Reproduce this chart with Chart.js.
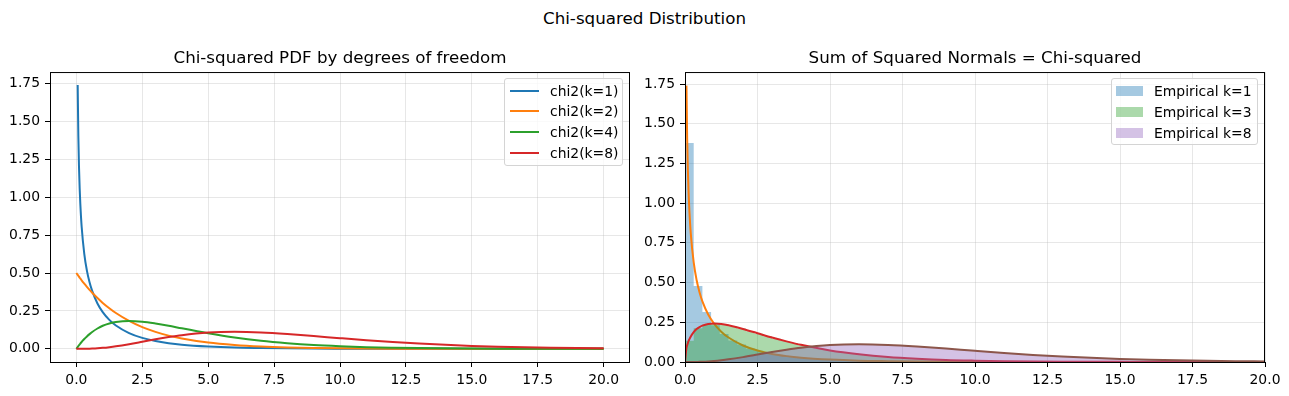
<!DOCTYPE html>
<html>
<head>
<meta charset="utf-8">
<script src="https://cdn.jsdelivr.net/npm/chart.js@4.4.1/dist/chart.umd.min.js"></script>
<style>
  body { margin: 0; background: #fff; font-family: 'DejaVu Sans', sans-serif; }
  #fig { position: relative; width: 1289px; height: 396px; overflow: hidden; }
  canvas { position: absolute; top: 0; }
  .suptitle { position: absolute; left: 0; width: 1289px; top: 8px; text-align: center;
              font-size: 16.7px; line-height: 20px; color: #000; }
  .legend { position: absolute; box-sizing: border-box; border: 1px solid #d4d4d4; border-radius: 3px;
            background: rgba(255,255,255,0.8); font-size: 13.9px; color: #000; }
  .legend .row { position: absolute; left: 0; height: 20px; line-height: 20px; white-space: nowrap; }
  .legend .swatch { position: absolute; }
  .legend .text { position: absolute; top: 0; }
</style>
</head>
<body>
<div id="fig">
  <div class="suptitle">Chi-squared Distribution</div>
  <canvas id="leftChart" width="640" height="396" style="left:0"></canvas>
  <canvas id="rightChart" width="649" height="396" style="left:640px"></canvas>
  <div id="leftLegend" class="legend" style="left:504px; top:78px; width:119px; height:88px;"></div>
  <div id="rightLegend" class="legend" style="left:1111px; top:78px; width:147px; height:67px;"></div>
</div>
<script>
const FONT = "'DejaVu Sans', sans-serif";

const PDF_X = [0, 0.05, 0.075, 0.1, 0.125, 0.15, 0.2, 0.3, 0.4, 0.5, 0.6, 0.8, 1.0, 1.25, 1.5, 2, 2.5, 3, 3.5, 4,
               5, 6, 7, 8, 9, 10, 11, 12, 13, 14, 15, 16, 17, 18, 19, 20];
const PDF_K1 = [null, 1.740, 1.403, 1.200, 1.060, 0.956, 0.807, 0.627, 0.516, 0.439, 0.382, 0.299, 0.242, 0.191, 0.154, 0.104, 0.072, 0.051, 0.037, 0.027,
                0.015, 0.008, 0.005, 0.003, 0.0015, 0.0009, 0.0005, 0.0003, 0.0002, 0.0001, 0.0001, 0, 0, 0, 0, 0];
const PDF_K2 = [0.500, 0.488, 0.482, 0.476, 0.469, 0.464, 0.452, 0.430, 0.409, 0.389, 0.370, 0.335, 0.303, 0.268, 0.236, 0.184, 0.143, 0.112, 0.087, 0.068,
                0.041, 0.025, 0.015, 0.009, 0.0056, 0.0034, 0.0020, 0.0012, 0.0008, 0.0005, 0.0003, 0.0002, 0.0001, 0.0001, 0.0001, 0];
const PDF_K3 = [0, 0.087, 0.105, 0.120, 0.133, 0.143, 0.161, 0.188, 0.207, 0.220, 0.229, 0.239, 0.242, 0.239, 0.231, 0.208, 0.181, 0.154, 0.130, 0.108,
                0.073, 0.049, 0.032, 0.021, 0.013, 0.0085, 0.0054, 0.0034, 0.0021, 0.0013, 0.0008, 0.0005, 0.0003, 0.0002, 0.0001, 0.0001];
const PDF_K4 = [0, 0.012, 0.018, 0.024, 0.029, 0.035, 0.045, 0.065, 0.082, 0.097, 0.111, 0.134, 0.152, 0.167, 0.177, 0.184, 0.179, 0.167, 0.152, 0.135,
                0.103, 0.075, 0.053, 0.037, 0.025, 0.017, 0.011, 0.0074, 0.0049, 0.0032, 0.0021, 0.0013, 0.0009, 0.0006, 0.0004, 0.0002];
const PDF_K8 = [0, 0, 0, 0, 0, 0, 0.0001, 0.0002, 0.0006, 0.0010, 0.0017, 0.0036, 0.0063, 0.0109, 0.0166, 0.0307, 0.0466, 0.0628, 0.0776, 0.0902,
                0.1069, 0.1120, 0.1078, 0.0977, 0.0843, 0.0702, 0.0567, 0.0446, 0.0344, 0.0261, 0.0194, 0.0143, 0.0104, 0.0075, 0.0054, 0.0038];

// histogram bin edges and densities (right panel)
const HIST_EDGES = [0, 0.3, 0.6, 0.9, 1.2, 1.5, 1.8, 2.1, 2.4, 2.7, 3.0, 3.3, 3.6, 3.9, 4.2, 4.5, 4.8, 5.1, 5.4, 5.7,
                    6.0, 6.3, 6.6, 6.9, 7.2, 7.5, 7.8, 8.1, 8.4, 8.7, 9.0, 9.3, 9.6, 9.9, 10.2, 10.5, 10.8, 11.1, 11.4, 11.7,
                    12.0, 12.3, 12.6, 12.9, 13.2, 13.5, 13.8, 14.1, 14.4, 14.7, 15.0, 15.3, 15.6, 15.9, 16.2, 16.5, 16.8, 17.1, 17.4, 17.7,
                    18.0, 18.3, 18.6, 18.9, 19.2, 19.5, 19.8, 20.1];
const HIST_K1 = [1.379, 0.479, 0.315, 0.232, 0.176, 0.136, 0.110, 0.085, 0.071, 0.056, 0.047, 0.039, 0.031, 0.027, 0.021, 0.018, 0.015, 0.013, 0.011, 0.009,
                 0.008, 0.006, 0.005, 0.0045, 0.004, 0.003, 0.0028, 0.002, 0.002, 0.0015, 0.0012, 0.001, 0.0008, 0.0006];
const HIST_K3 = [0.133, 0.212, 0.236, 0.240, 0.236, 0.225, 0.211, 0.193, 0.178, 0.162, 0.147, 0.132, 0.119, 0.106, 0.095, 0.084, 0.075, 0.066, 0.059, 0.052,
                 0.046, 0.040, 0.036, 0.031, 0.028, 0.024, 0.021, 0.019, 0.016, 0.014, 0.012, 0.011, 0.0095, 0.0083, 0.0072, 0.0063, 0.0055, 0.0048, 0.0042, 0.0036,
                 0.0031, 0.0027, 0.0024, 0.0021, 0.0018, 0.0016, 0.0014, 0.0012, 0.0010, 0.0009, 0.0008, 0.0007, 0.0006, 0.0005, 0.0004, 0.0004, 0.0003, 0.0003, 0.0003, 0.0002,
                 0.0002, 0.0002, 0.0001, 0.0001, 0.0001, 0.0001, 0.0001];
const HIST_K8 = [0, 0.0008, 0.0030, 0.0071, 0.0130, 0.0205, 0.0291, 0.0385, 0.0483, 0.0580, 0.0674, 0.0762, 0.0843, 0.0913, 0.0974, 0.1024, 0.1064, 0.1091, 0.1110, 0.1120,
                 0.1119, 0.1112, 0.1096, 0.1077, 0.1051, 0.1017, 0.0984, 0.0947, 0.0906, 0.0865, 0.0823, 0.0780, 0.0738, 0.0695, 0.0654, 0.0613, 0.0573, 0.0535, 0.0499, 0.0463,
                 0.0430, 0.0398, 0.0368, 0.0340, 0.0313, 0.0288, 0.0264, 0.0243, 0.0222, 0.0203, 0.0186, 0.0170, 0.0155, 0.0141, 0.0128, 0.0117, 0.0106, 0.0096, 0.0087, 0.0079,
                 0.0072, 0.0065, 0.0058, 0.0053, 0.0048, 0.0043, 0.0039];

const LEFT_LABELS = ['chi2(k=1)', 'chi2(k=2)', 'chi2(k=4)', 'chi2(k=8)'];
const RIGHT_LABELS = ['Empirical k=1', 'Empirical k=3', 'Empirical k=8'];
const X_TICKS = [0, 2.5, 5, 7.5, 10, 12.5, 15, 17.5, 20];
const Y_TICKS = [0, 0.25, 0.5, 0.75, 1.0, 1.25, 1.5, 1.75];

const LINE_COLORS = ['#1f77b4', '#ff7f0e', '#2ca02c', '#d62728'];
const HIST_COLORS = ['rgba(31,119,180,0.4)', 'rgba(44,160,44,0.4)', 'rgba(148,103,189,0.4)'];
const FIT_COLORS = ['#ff7f0e', '#d62728', '#8c564b'];

// black box around the axes, like matplotlib spines
const framePlugin = {
    id: 'frame',
    afterDatasetsDraw(chart) {
        const {ctx, chartArea: a} = chart;
        ctx.save();
        ctx.strokeStyle = '#000';
        ctx.lineWidth = 1;
        ctx.strokeRect(a.left + 0.5, a.top + 0.5, a.right - a.left - 1, a.bottom - a.top);
        ctx.restore();
    }
};

function scaleOpts(min, max, ticks, digits, size, isX) {
    return {
        type: 'linear',
        min: min,
        max: max,
        afterBuildTicks: (s) => { s.ticks = ticks.map(v => ({value: v})); },
        afterFit: (s) => { if (isX) { s.height = size; } else { s.width = size; } },
        grid: {color: 'rgba(176,176,176,0.3)', lineWidth: 1, tickLength: 5, tickColor: '#000', drawTicks: true},
        border: {display: false},
        ticks: {
            autoSkip: false, maxRotation: 0, padding: 5, color: '#000',
            font: {family: FONT, size: 13.9},
            callback: (v) => Number(v).toFixed(digits)
        }
    };
}

function baseOptions(title, padRight, xs, ys) {
    return {
        responsive: false,
        devicePixelRatio: 1,
        animation: false,
        layout: {padding: {top: 49, left: 0, right: padRight, bottom: 0}},
        plugins: {
            legend: {display: false},
            tooltip: {enabled: false},
            title: {
                display: true, text: title, color: '#000', fullSize: false,
                font: {family: FONT, size: 16.7, weight: 'normal'},
                padding: {top: 0, bottom: 3}
            }
        },
        scales: {x: xs, y: ys}
    };
}

function curve(values) {
    return PDF_X.map((x, i) => ({x: x, y: values[i]}));
}

function histogram(values) {
    let pts = values.map((v, i) => ({x: HIST_EDGES[i], y: v}));
    pts.push({x: HIST_EDGES[values.length], y: 0});
    return pts;
}

// left: pdf lines
const leftSeries = [PDF_K1, PDF_K2, PDF_K4, PDF_K8];
new Chart(document.getElementById('leftChart'), {
    type: 'line',
    data: {
        datasets: leftSeries.map((s, i) => ({
            label: LEFT_LABELS[i],
            data: curve(s),
            borderColor: LINE_COLORS[i],
            borderWidth: 2,
            pointRadius: 0,
            cubicInterpolationMode: 'monotone',
            fill: false,
            order: leftSeries.length - i,
            clip: 0
        }))
    },
    options: baseOptions('Chi-squared PDF by degrees of freedom', 10,
        scaleOpts(-1, 21, X_TICKS, 1, 34, true),
        scaleOpts(-0.0869, 1.8255, Y_TICKS, 2, 50, false)),
    plugins: [framePlugin]
});

// right: histograms with fitted pdfs, drawn in matplotlib order
const hists = [HIST_K1, HIST_K3, HIST_K8];
const fits = [PDF_K1, PDF_K3, PDF_K8];
let rightSets = [];
hists.forEach((h, i) => {
    rightSets.push({
        label: RIGHT_LABELS[i],
        data: histogram(h),
        stepped: true,
        borderWidth: 0,
        borderColor: 'rgba(0,0,0,0)',
        backgroundColor: HIST_COLORS[i],
        pointRadius: 0,
        fill: 'origin',
        clip: 0
    });
    rightSets.push({
        label: 'pdf ' + i,
        data: curve(fits[i]),
        borderColor: FIT_COLORS[i],
        borderWidth: 2,
        pointRadius: 0,
        cubicInterpolationMode: 'monotone',
        fill: false,
        clip: 0
    });
});
rightSets.forEach((d, i) => { d.order = rightSets.length - i; });

new Chart(document.getElementById('rightChart'), {
    type: 'line',
    data: {datasets: rightSets},
    options: baseOptions('Sum of Squared Normals = Chi-squared', 24,
        scaleOpts(0, 20, X_TICKS, 1, 34, true),
        scaleOpts(0, 1.8255, Y_TICKS, 2, 45, false)),
    plugins: [framePlugin]
});

// legends inside the axes
function buildLegend(el, labels, colors, patch, firstCenter, textLeft, swatchLeft, swatchW) {
    labels.forEach((lab, i) => {
        let row = document.createElement('div');
        row.className = 'row';
        row.style.top = (firstCenter + 20.7 * i - 10 - 1) + 'px';
        row.style.width = '100%';
        let sw = document.createElement('div');
        sw.className = 'swatch';
        sw.style.left = swatchLeft + 'px';
        sw.style.width = swatchW + 'px';
        sw.style.background = colors[i];
        if (patch) { sw.style.top = '5px'; sw.style.height = '10px'; }
        else { sw.style.top = '9px'; sw.style.height = '2px'; }
        let tx = document.createElement('div');
        tx.className = 'text';
        tx.style.left = textLeft + 'px';
        tx.textContent = lab;
        row.appendChild(sw);
        row.appendChild(tx);
        el.appendChild(row);
    });
}
buildLegend(document.getElementById('leftLegend'), LEFT_LABELS, LINE_COLORS, false, 12.7, 45, 4.5, 29);
buildLegend(document.getElementById('rightLegend'), RIGHT_LABELS, HIST_COLORS, true, 13.3, 42, 4, 27);
</script>
</body>
</html>
